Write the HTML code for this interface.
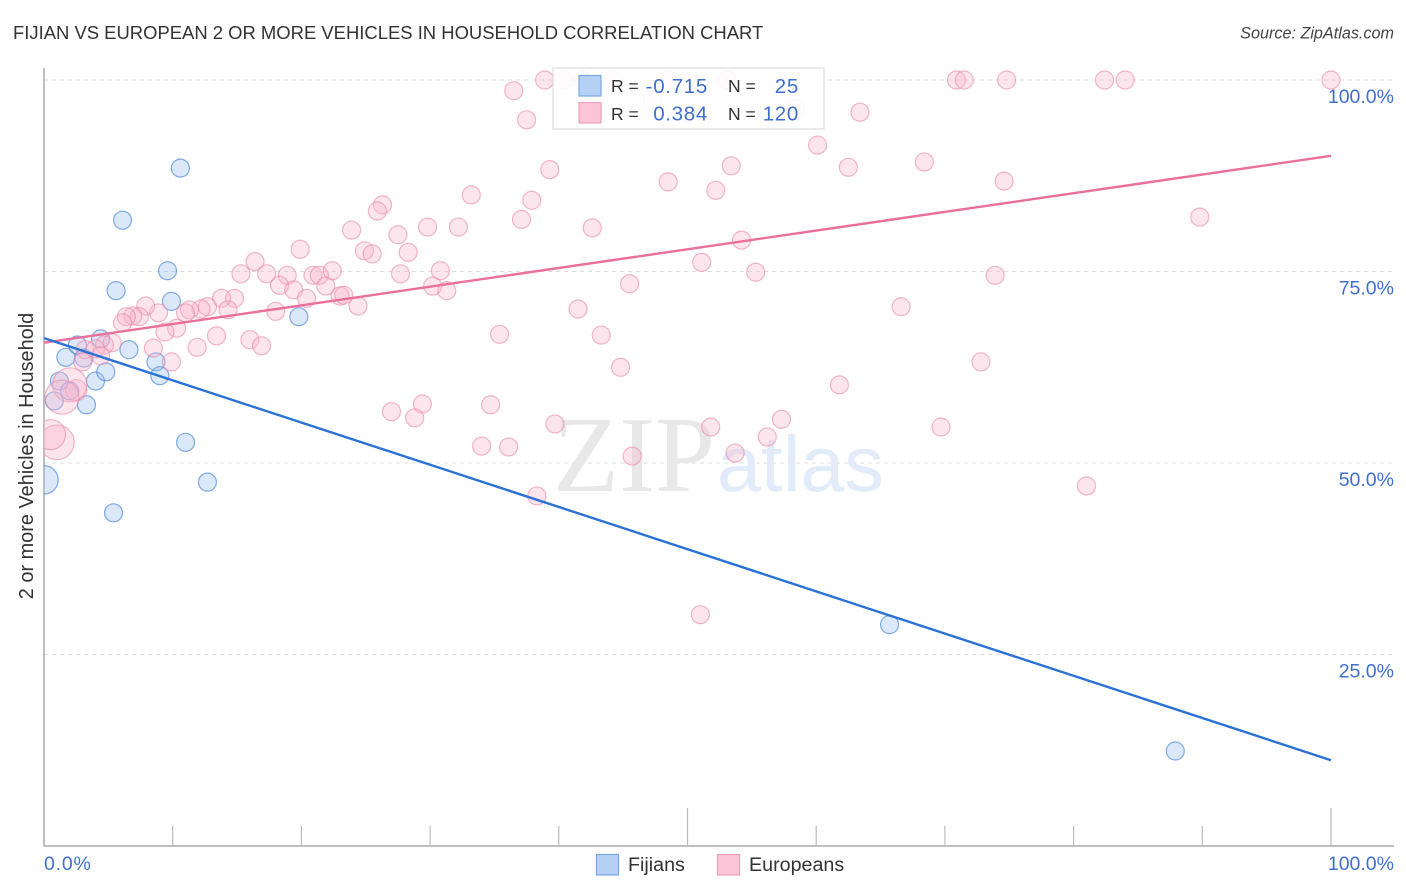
<!DOCTYPE html>
<html lang="en">
<head>
<meta charset="utf-8">
<title>Fijian vs European 2 or more Vehicles in Household Correlation Chart</title>
<style>
html,body{margin:0;padding:0;background:#fff;}
svg{display:block;font-family:"Liberation Sans",sans-serif;}
</style>
</head>
<body>
<svg id="chart" xmlns="http://www.w3.org/2000/svg" width="1406" height="892" viewBox="0 0 1406 892">
  <defs><clipPath id="plot-clip"><rect x="44" y="60" width="1362" height="786"/></clipPath></defs>
  <text x="13" y="39" font-size="18.45" fill="#333">FIJIAN VS EUROPEAN 2 OR MORE VEHICLES IN HOUSEHOLD CORRELATION CHART</text>
  <text x="1394" y="38.500" font-size="16.200" font-style="italic" text-anchor="end" fill="#444">Source: ZipAtlas.com</text>
  <g id="grid"></g>
  <g>
    <text x="553" y="491" font-family="'Liberation Serif',serif" font-size="108" fill="#e8e8e8">ZIP</text>
    <text x="717" y="491" font-size="79" fill="#e2ebf9">atlas</text>
  </g>
  <g id="axes"></g>
  <g id="points-fijians" clip-path="url(#plot-clip)"></g>
  <g id="points-europeans" clip-path="url(#plot-clip)"></g>
  <g id="trends"></g>
  <g id="tick-labels" font-size="19.5" fill="#3f70d0"></g>
  <text transform="translate(33,456) rotate(-90)" font-size="19.9" text-anchor="middle" fill="#333">2 or more Vehicles in Household</text>

  <g>
    <rect x="553" y="68" width="271" height="61" fill="#fff" fill-opacity="0.88" stroke="#ddd" stroke-width="1.2"/>
    <rect x="579" y="75.500" width="22" height="20.500" fill="#b5d2f6" stroke="#7aa6e2" stroke-width="1.200"/>
    <rect x="579" y="102.500" width="22" height="20.500" fill="#fcc4d7" stroke="#eda0bb" stroke-width="1.200"/>
    <text x="611" y="92" font-size="17.500" fill="#333">R =</text>
    <text x="708" y="93" font-size="20.500" letter-spacing="0.7" text-anchor="end" fill="#3f70d0">-0.715</text>
    <text x="728" y="92" font-size="17.500" fill="#333">N =</text>
    <text x="799" y="93" font-size="20.500" letter-spacing="0.7" text-anchor="end" fill="#3f70d0">25</text>
    <text x="611" y="120" font-size="17.500" fill="#333">R =</text>
    <text x="708" y="120.500" font-size="20.500" letter-spacing="0.7" text-anchor="end" fill="#3f70d0">0.384</text>
    <text x="728" y="120" font-size="17.500" fill="#333">N =</text>
    <text x="799" y="120.500" font-size="20.500" letter-spacing="0.7" text-anchor="end" fill="#3f70d0">120</text>
  </g>

  <g>
    <rect x="596.500" y="854.500" width="22" height="20.500" fill="#b5d2f6" stroke="#7aa6e2" stroke-width="1.200"/>
    <text x="628" y="871" font-size="19.700" fill="#333">Fijians</text>
    <rect x="717.500" y="854.500" width="22" height="20.500" fill="#fcc4d7" stroke="#eda0bb" stroke-width="1.200"/>
    <text x="749" y="871" font-size="19.700" fill="#333">Europeans</text>
  </g>
</svg>
<script>
const fijianX = [0,0.8,1.2,1.7,2.0,2.6,3.1,3.3,4.0,4.4,4.8,5.4,5.6,6.1,6.6,8.7,9.0,9.6,9.9,10.6,11.0,12.7,19.8,65.7,87.9];
const fijianY = [47.8,58.1,60.7,63.8,59.4,65.4,63.7,57.6,60.7,66.2,61.9,43.5,72.5,81.7,64.8,63.2,61.4,75.1,71.1,88.5,52.7,47.5,69.1,28.9,12.4];
const fijianWeight = [2.5,1,1,1,1,1,1,1,1,1,1,1,1,1,1,1,1,1,1,1,1,1,1,1,1];

const europeanX = [38.9,40.3,41.8,44.1,48.6,53.1,70.9,71.5,74.8,82.4,84.0,100,47.3,58.4,50.0,36.5,37.5,39.3,37.9,37.1,42.6,33.2,32.2,29.8,27.5,26.3,25.9,23.9,19.9,24.9,25.5,28.3,27.7,30.8,30.2,31.3,16.4,15.3,17.3,18.9,20.9,21.4,22.4,18.3,19.4,20.4,21.9,23.0,23.3,24.4,18.0,14.8,13.8,14.3,12.7,12.2,11.3,11.0,10.3,9.4,8.9,7.9,7.4,6.9,6.4,6.1,8.5,9.9,11.9,13.4,16.0,16.9,35.4,41.5,43.3,44.8,45.5,51.1,52.2,53.4,48.5,54.2,55.3,60.1,62.5,63.4,68.4,74.6,89.8,66.6,73.9,72.8,61.8,69.7,81.0,57.3,56.2,53.7,51.8,45.7,39.7,38.3,36.1,34.0,34.7,29.4,27.0,28.8,51.0,5.3,4.7,3.2,4.0,4.4,3.0,2.5,2.0,1.4,1.0,0.5];
const europeanY = [100,100,100,100,100,100,100,100,100,100,100,100,97.3,96.3,95.7,98.6,94.8,88.3,84.3,81.8,80.7,85.0,80.8,80.8,79.8,83.7,82.9,80.4,77.9,77.7,77.3,77.5,74.7,75.1,73.1,72.5,76.3,74.7,74.7,74.5,74.5,74.5,75.1,73.2,72.6,71.5,73.1,71.8,71.9,70.5,69.8,71.5,71.5,70.0,70.4,70.1,70.0,69.6,67.6,67.1,69.6,70.5,69.1,69.2,69.1,68.3,65.0,63.2,65.1,66.6,66.1,65.3,66.8,70.1,66.7,62.5,73.4,76.2,85.6,88.8,86.7,79.1,74.9,91.5,88.6,95.8,89.3,86.8,82.1,70.4,74.5,63.2,60.2,54.7,47.0,55.7,53.4,51.3,54.7,50.9,55.1,45.7,52.1,52.2,57.6,57.7,56.7,55.9,30.2,65.7,65.4,64.8,64.9,64.0,63.2,59.5,60.2,58.6,52.7,53.7];
const europeanWeight = [1,1,1,1,1,1,1,1,1,1,1,1,1,1,1,1,1,1,1,1,1,1,1,1,1,1,1,1,1,1,1,1,1,1,1,1,1,1,1,1,1,1,1,1,1,1,1,1,1,1,1,1,1,1,1,1,1,1,1,1,1,1,1,1,1,1,1,1,1,1,1,1,1,1,1,1,1,1,1,1,1,1,1,1,1,1,1,1,1,1,1,1,1,1,1,1,1,1,1,1,1,1,1,1,1,1,1,1,1,1,1,1,1,1,1,1.400,3.600,3.600,3.700,2.800];

const trendXEnds = [0,100];
const fijianTrendY = [66.3,11.2];
const europeanTrendY = [65.7,90.1];

const yTicks = [25,50,75,100];
const yTickLabels = ["25.0%","50.0%","75.0%","100.0%"];
const xTicks = [0,10,20,30,40,50,60,70,80,90,100];
const xMajorTicks = [50,100];
const xEndLabels = ["0.0%","100.0%"];

const NS = "http://www.w3.org/2000/svg";
function xPos(v){ return 44 + v * 12.87; }
function yPos(v){ return 846 - v * 7.66; }
function radius(w){ return 9 * Math.sqrt(w); }
function make(tag, attrs, parent){
  const el = document.createElementNS(NS, tag);
  for (const k in attrs) el.setAttribute(k, attrs[k]);
  parent.appendChild(el);
  return el;
}

const gridG = document.getElementById("grid");
const axesG = document.getElementById("axes");
const labelG = document.getElementById("tick-labels");
const trendG = document.getElementById("trends");
const fijG = document.getElementById("points-fijians");
const eurG = document.getElementById("points-europeans");

yTicks.forEach(function(t, i){
  const line = make("line", {x1:44, x2:1394, y1:yPos(t), y2:yPos(t), stroke:"#dcdcdc", "stroke-width":1.1, "stroke-dasharray":"4 4"}, gridG);
  
  
  const label = make("text", {x:1394, y:yPos(t)+23, "text-anchor":"end"}, labelG);
  
  
  label.textContent = yTickLabels[i];
});

const yAxis = make("line", {x1:44, x2:44, y1:68, y2:846, stroke:"#aaa", "stroke-width":1.5}, axesG);


const xAxis = make("line", {x1:44, x2:1394, y1:846, y2:846, stroke:"#aaa", "stroke-width":1.5}, axesG);



xTicks.forEach(function(t){
  if (t === 0) return;
  const top = xMajorTicks.indexOf(t) >= 0 ? 808 : 826;
  const tick = make("line", {x1:xPos(t), x2:xPos(t), y1:top, y2:846, stroke:"#bbb", "stroke-width":1.2}, axesG);
  
  
});

const xLabelStart = make("text", {x:44, y:870, "letter-spacing":0.8}, labelG);


xLabelStart.textContent = xEndLabels[0];
const xLabelEnd = make("text", {x:1394, y:870, "text-anchor":"end"}, labelG);


xLabelEnd.textContent = xEndLabels[1];

fijianX.forEach(function(v, i){
  const c = make("circle", {cx:xPos(v), cy:yPos(fijianY[i]), r:radius(fijianWeight[i]), fill:"#8fb8ee", "fill-opacity":0.33, stroke:"#4f8ad8", "stroke-opacity":0.7, "stroke-width":1.2}, fijG);
  
  
});

europeanX.forEach(function(v, i){
  const c = make("circle", {cx:xPos(v), cy:yPos(europeanY[i]), r:radius(europeanWeight[i]), fill:"#f9b4ca", "fill-opacity":0.35, stroke:"#e88aaa", "stroke-opacity":0.62, "stroke-width":1.2}, eurG);
  
  
});

const europeanTrend = make("line", {x1:xPos(trendXEnds[0]), x2:xPos(trendXEnds[1]), y1:yPos(europeanTrendY[0]), y2:yPos(europeanTrendY[1]), stroke:"#ea6f9b", "stroke-width":2.4}, trendG);


const fijianTrend = make("line", {x1:xPos(trendXEnds[0]), x2:xPos(trendXEnds[1]), y1:yPos(fijianTrendY[0]), y2:yPos(fijianTrendY[1]), stroke:"#2a72d6", "stroke-width":2.4}, trendG);


</script>
</body>
</html>
